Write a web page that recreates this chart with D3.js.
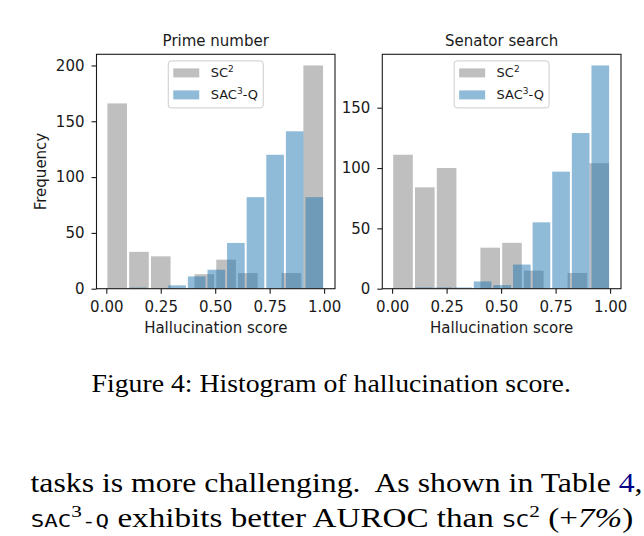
<!DOCTYPE html>
<html lang="en">
<head>
<meta charset="UTF-8">
<title>Histogram of hallucination score</title>
<script src="https://cdn.jsdelivr.net/npm/d3@7"></script>
<style>
  body { margin: 0; background: #fff; }
  svg { display: block; }
  .axis text { font-family: "DejaVu Sans", sans-serif; font-size: 15px; fill: #1a1a1a; }
  .axis line { stroke: #1a1a1a; stroke-width: 1.1; }
  .lbl { font-family: "DejaVu Sans", sans-serif; font-size: 15px; fill: #1a1a1a; }
  .serif { font-family: "Liberation Serif", "Times New Roman", serif; fill: #000; }
  .mono { font-family: "DejaVu Sans Mono", monospace; }
</style>
</head>
<body>
<svg id="fig" width="644" height="536"></svg>
<script>
// ---- data ----
// bin edges, 10 bins each (SC2 over [0,1], SAC3-Q over [0.1,1])
const sc2Edges = [0.0, 0.1, 0.2, 0.3, 0.4, 0.5, 0.6, 0.7, 0.8, 0.9, 1.0];
const sacEdges = [0.1, 0.19, 0.28, 0.37, 0.46, 0.55, 0.64, 0.73, 0.82, 0.91, 1.0];

const primeSC2   = [166, 33, 29, 0, 13, 26, 14, 0, 14, 200];
const primeSAC   = [1, 0, 3, 11, 17, 41, 82, 120, 141, 82];
const senatorSC2 = [111, 84, 100, 0, 34, 38, 15, 0, 13, 104];
const senatorSAC = [1, 1, 1, 6, 3, 20, 55, 97, 129, 185];

const panelTitles   = ['Prime number', 'Senator search'];
const xTicks        = [0, 0.25, 0.5, 0.75, 1.0];
const primeYTicks   = [0, 50, 100, 150, 200];
const senatorYTicks = [0, 50, 100, 150];
const legendLabels  = [['SC', '2', ''], ['SAC', '3', '-Q']];

// ---- layout ----
const plotTop = 54.3, plotBottom = 288.7;
const panels = [
  { title: panelTitles[0], sc2: primeSC2,   sac: primeSAC,   yTicks: primeYTicks,   x0: 96.5,  x1: 335 },
  { title: panelTitles[1], sc2: senatorSC2, sac: senatorSAC, yTicks: senatorYTicks, x0: 382.3, x1: 621 }
];
const grayCol = '#808080', blueCol = '#1f77b4';

const svg = d3.select('#fig');
svg.append('rect').attr('width', 644).attr('height', 536).attr('fill', '#fff');

panels.forEach((p, pi) => {
  const g = svg.append('g');
  const ymax = d3.max(p.sc2.concat(p.sac)) * 1.05;
  const x = d3.scaleLinear().domain([-0.045, 1.05]).range([p.x0, p.x1]);
  const y = d3.scaleLinear().domain([0, ymax]).range([plotBottom, plotTop]);
  const cx = (p.x0 + p.x1) / 2;

  drawHist(g, sc2Edges, p.sc2, grayCol, x, y);
  drawHist(g, sacEdges, p.sac, blueCol, x, y);

  // axes
  const ax = g.append('g').attr('class', 'axis')
    .attr('transform', `translate(0,${plotBottom})`)
    .call(d3.axisBottom(x).tickValues(xTicks).tickFormat(d3.format('.2f'))
      .tickSize(5).tickPadding(8));
  const ay = g.append('g').attr('class', 'axis')
    .attr('transform', `translate(${p.x0},0)`)
    .call(d3.axisLeft(y).tickValues(p.yTicks).tickSize(5).tickPadding(7));
  ax.select('.domain').remove();
  ay.select('.domain').remove();
  g.selectAll('.axis text').attr('fill', '#1a1a1a');

  // frame
  g.append('rect')
    .attr('x', p.x0).attr('y', plotTop)
    .attr('width', p.x1 - p.x0).attr('height', plotBottom - plotTop)
    .attr('fill', 'none').attr('stroke', '#1a1a1a').attr('stroke-width', 1.1);

  // title + x label
  g.append('text').attr('class', 'lbl').attr('x', cx).attr('y', 45.5)
    .attr('text-anchor', 'middle').text(p.title);
  g.append('text').attr('class', 'lbl').attr('x', cx).attr('y', 333.3)
    .attr('text-anchor', 'middle').text('Hallucination score');
  if (pi === 0) {
    g.append('text').attr('class', 'lbl')
      .attr('transform', `translate(45.5,${(plotTop + plotBottom) / 2}) rotate(-90)`)
      .attr('text-anchor', 'middle').text('Frequency');
  }

  // legend (upper center)
  const lg = g.append('g').attr('transform', `translate(${cx - 47.5},${plotTop + 6.6})`);
  lg.append('rect').attr('width', 95).attr('height', 47).attr('rx', 3)
    .attr('fill', '#fff').attr('fill-opacity', 0.8)
    .attr('stroke', '#cccccc').attr('stroke-width', 1);
  [grayCol, blueCol].forEach((c, i) => {
    lg.append('rect').attr('x', 5).attr('y', 7.5 + i * 22).attr('width', 26).attr('height', 9)
      .attr('fill', c).attr('fill-opacity', 0.5);
    const t = lg.append('text').attr('x', 42.4).attr('y', 16.5 + i * 22)
      .style('font-family', '"DejaVu Sans", sans-serif').style('font-size', '13px')
      .attr('fill', '#1a1a1a');
    t.append('tspan').text(legendLabels[i][0]);
    t.append('tspan').attr('dy', -5).style('font-size', '9px').text(legendLabels[i][1]);
    t.append('tspan').attr('dy', 5).text(legendLabels[i][2]);
  });
});

function drawHist(g, edges, counts, color, x, y) {
  g.append('g').selectAll('rect').data(counts).join('rect')
    .attr('x', (d, i) => x(edges[i] + 0.05 * (edges[i + 1] - edges[i])))
    .attr('width', (d, i) => {
      const w = edges[i + 1] - edges[i];
      return x(edges[i + 1] - 0.05 * w) - x(edges[i] + 0.05 * w);
    })
    .attr('y', d => y(d))
    .attr('height', d => y(0) - y(d))
    .attr('fill', color).attr('fill-opacity', 0.5);
}

// ---- caption and running text (page text is set wider than Times, so stretch to fit) ----
const caption = svg.append('text').attr('class', 'serif').style('font-size', '25px')
  .text('Figure 4: Histogram of hallucination score.');

const line1 = svg.append('text').attr('class', 'serif').style('font-size', '26.5px');
line1.append('tspan').text('tasks is more challenging. ');
line1.append('tspan').attr('dx', 5).text('As shown in Table ');
line1.append('tspan').attr('fill', '#00008b').text('4');
line1.append('tspan').text(',');

const line2 = svg.append('text').attr('class', 'serif').style('font-size', '26.5px');
line2.append('tspan').attr('class', 'mono').style('font-size', '18px').text('SAC');
line2.append('tspan').attr('dy', -10).style('font-size', '17px').text('3');
line2.append('tspan').attr('dy', 10).attr('class', 'mono').style('font-size', '18px').text('-Q');
line2.append('tspan').text(' exhibits better AUROC than ');
line2.append('tspan').attr('class', 'mono').style('font-size', '18px').text('SC');
line2.append('tspan').attr('dy', -10).style('font-size', '17px').text('2');
line2.append('tspan').attr('dy', 10).text(' (+');
line2.append('tspan').style('font-style', 'italic').text('7%');
line2.append('tspan').text(')');

fitLine(caption, 91.5, 571, 391.7);
fitLine(line1, 30.5, 635, 491.7);
fitLine(line2, 30.7, 633.5, 526.7);

function fitLine(t, left, right, baseline) {
  const w = t.node().getComputedTextLength();
  t.attr('transform', `translate(${left},${baseline}) scale(${(right - left) / w},1)`);
}
</script>
</body>
</html>
